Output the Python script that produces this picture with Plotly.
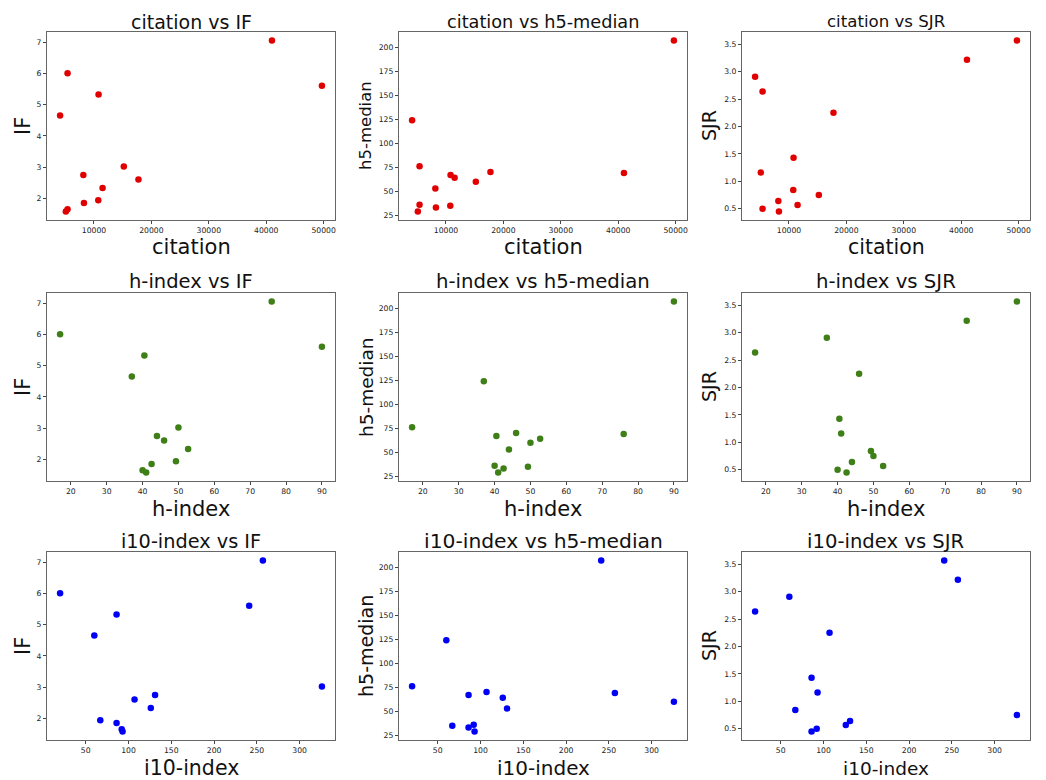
import plotly.graph_objects as go

# Journal metrics (13 journals)
citation = [4100, 5400, 5100, 5400, 8150, 8250, 10800, 10750, 11500, 15200, 17750, 41000, 49700]
h_index = [37, 17, 41, 40, 44, 42.5, 40.5, 49.3, 52.7, 50, 46, 76, 90]
i10_index = [60, 20, 93, 92, 131, 86, 86, 67, 126, 326, 107, 257, 241]
impact_factor = [4.65, 6.0, 1.58, 1.65, 2.75, 1.85, 5.32, 1.94, 2.33, 3.02, 2.6, 7.05, 5.6]
h5_median = [124, 76, 29, 36, 53, 33, 67, 35, 64, 60, 70, 69, 207]
sjr = [2.91, 2.64, 1.16, 0.50, 0.64, 0.45, 1.43, 0.84, 0.57, 0.75, 2.25, 3.22, 3.57]

row_names = ["citation", "h-index", "i10-index"]
row_values = [citation, h_index, i10_index]
row_colors = ["#e00000", "#3f7f18", "#0000f5"]
col_names = ["IF", "h5-median", "SJR"]
col_values = [impact_factor, h5_median, sjr]

# figure is offset by the page's 8px body margin
W, H = 1038, 772
OFF = 8
col_px = [(47, 335), (399, 687), (742, 1030)]
row_px = [(32, 220), (293, 481), (552, 740)]
title_px = [22, 282, 541]
xlab_px = [247, 509, 768]
ylab_px = [23, 366, 709]
title_size = [[19, 17.7, 16.6], [19.5, 19.7, 19.7], [19.3, 20.3, 19.6]]
xlab_size = [[21, 21, 20.5], [21, 21, 21], [20.5, 20, 18.5]]
ylab_size = [[21, 16.5, 19], [21, 18.5, 19], [21, 19, 19]]


def px_x(p):
    return (p - OFF) / W


def px_y(p):
    return 1 - (p - OFF) / H


def rng(v):
    lo, hi = min(v), max(v)
    m = (hi - lo) * 0.05
    return [lo - m, hi + m]


FONT = "DejaVu Sans"
fig = go.Figure()
layout = {}
annotations = []
k = 0
for r in range(3):
    for c in range(3):
        k += 1
        xa = "x" if k == 1 else f"x{k}"
        ya = "y" if k == 1 else f"y{k}"
        fig.add_trace(go.Scatter(x=row_values[r], y=col_values[c], mode="markers",
                                 xaxis=xa, yaxis=ya,
                                 marker=dict(color=row_colors[r], size=6.5, line=dict(width=0)),
                                 showlegend=False, cliponaxis=False))
        axstyle = dict(showline=True, linecolor="#666", linewidth=1.2, mirror=True,
                       ticks="outside", ticklen=3, tickcolor="#444", showgrid=False,
                       zeroline=False, tickfont=dict(family=FONT, size=7.7, color="#222"))
        xdom = [px_x(col_px[c][0]), px_x(col_px[c][1])]
        ydom = [px_y(row_px[r][1]), px_y(row_px[r][0])]
        xdt = {0: 10000, 1: 10, 2: 50}[r]
        ydt = {0: 1, 1: 25, 2: 0.5}[c]
        layout["xaxis" if k == 1 else f"xaxis{k}"] = dict(
            domain=xdom, anchor=ya, range=rng(row_values[r]), dtick=xdt, tick0=0,
            tickformat="d", **axstyle)
        layout["yaxis" if k == 1 else f"yaxis{k}"] = dict(
            domain=ydom, anchor=xa, range=rng(col_values[c]), dtick=ydt, tick0=0,
            tickformat=".1f" if c == 2 else "d", **axstyle)
        cx = px_x((col_px[c][0] + col_px[c][1]) / 2)
        cy = px_y((row_px[r][0] + row_px[r][1]) / 2)
        annotations.append(dict(text=f"{row_names[r]} vs {col_names[c]}", x=cx,
                                y=px_y(title_px[r]), xref="paper", yref="paper",
                                showarrow=False, xanchor="center", yanchor="middle",
                                font=dict(family=FONT, size=title_size[r][c], color="#111")))
        annotations.append(dict(text=row_names[r], x=cx, y=px_y(xlab_px[r]),
                                xref="paper", yref="paper", showarrow=False,
                                xanchor="center", yanchor="middle",
                                font=dict(family=FONT, size=xlab_size[r][c], color="#111")))
        annotations.append(dict(text=col_names[c], x=px_x(ylab_px[c]), y=cy,
                                xref="paper", yref="paper", showarrow=False,
                                xanchor="center", yanchor="middle", textangle=-90,
                                font=dict(family=FONT, size=ylab_size[r][c], color="#111")))

fig.update_layout(width=W, height=H, margin=dict(l=0, r=0, t=0, b=0),
                  plot_bgcolor="white", paper_bgcolor="white",
                  annotations=annotations, **layout)
fig.write_html("out.html")
